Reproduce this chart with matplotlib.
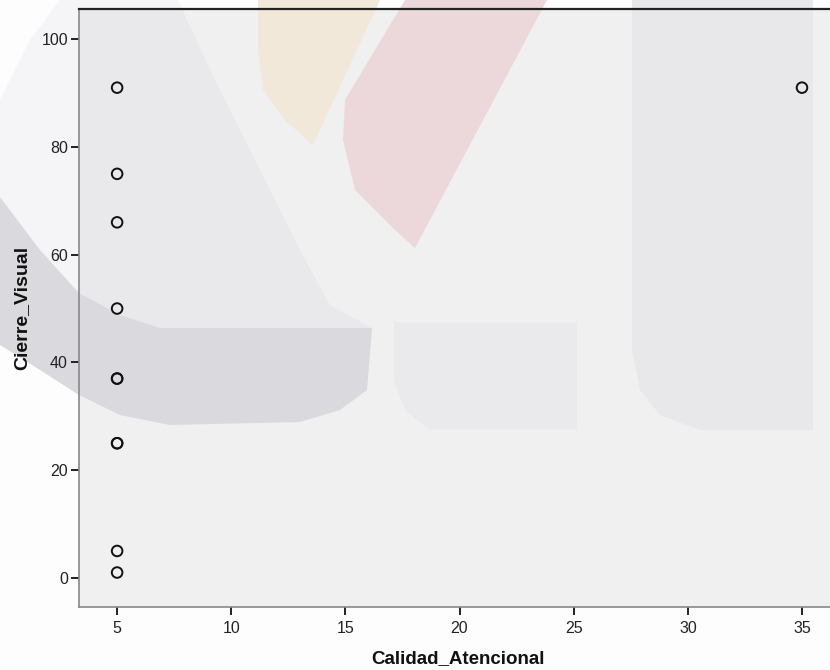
import matplotlib
matplotlib.use("Agg")
import matplotlib.pyplot as plt
from matplotlib.patches import Polygon, Rectangle

# Scatter data: Calidad_Atencional vs Cierre_Visual
calidad_atencional = [5, 5, 5, 5, 5, 5, 5, 5, 5, 5, 35]
cierre_visual = [91, 75, 66, 50, 37, 37, 25, 25, 5, 1, 91]

x_ticks = [5, 10, 15, 20, 25, 30, 35]
y_ticks = [0, 20, 40, 60, 80, 100]
x_label = "Calidad_Atencional"
y_label = "Cierre_Visual"

W, H = 830, 670
fig = plt.figure(figsize=(W / 100, H / 100), dpi=100, facecolor="#fdfdfd")


def px(points):
    """Convert pixel coordinates (origin top-left) to figure fractions."""
    return [(x / W, 1 - y / H) for x, y in points]


plot_rect = Rectangle((79 / W, 1 - 607 / H), (W - 79) / W, (607 - 9) / H,
                      facecolor="#f0f0f0", edgecolor="none",
                      transform=fig.transFigure, zorder=0)
fig.add_artist(plot_rect)


def add_shape(points, color, z, clip=False):
    poly = Polygon(px(points), closed=True, facecolor=color,
                   edgecolor="none", transform=fig.transFigure, zorder=z)
    fig.add_artist(poly)
    if clip:
        poly.set_clip_path(plot_rect)


# Faded background emblem
ring = [(60, 0), (178, 0), (215, 80), (260, 170), (300, 250), (330, 305),
        (372, 328), (160, 328), (120, 315), (79, 293), (40, 250), (0, 197),
        (0, 100), (30, 40)]
add_shape(ring, "#f5f5f7", 0.4)
add_shape(ring, "#e9e9ec", 0.5, clip=True)
add_shape([(0, 197), (40, 250), (79, 293), (120, 315), (160, 328), (372, 328),
           (367, 390), (340, 410), (300, 422), (170, 425), (120, 415),
           (79, 395), (40, 370), (0, 345)], "#dadade", 0.6)
add_shape([(258, 0), (380, 0), (313, 145), (285, 120), (263, 90), (258, 50)],
          "#f2e8d9", 0.6)
add_shape([(405, 0), (547, 0), (415, 248), (395, 230), (355, 190), (343, 140),
           (345, 100)], "#ecd8da", 0.6)
add_shape([(394, 322), (577, 322), (577, 430), (430, 430), (405, 410),
           (394, 380)], "#eaeaec", 0.6)
add_shape([(632, 0), (813, 0), (813, 430), (700, 430), (660, 415), (640, 390),
           (632, 350)], "#e8e8ea", 0.6)

ax = fig.add_axes([79 / W, 1 - 607 / H, (836 - 79) / W, (607 - 9) / H])
ax.set_facecolor("none")
ax.set_zorder(2)

ax.scatter(calidad_atencional, cierre_visual, s=58, facecolors="none",
           edgecolors="#111111", linewidths=1.4, zorder=3)

ax.set_xlim(3.33, 36.49)
ax.set_ylim(-5.4, 105.6)
ax.set_xticks(x_ticks)
ax.set_yticks(y_ticks)

tick_font = ["Liberation Sans", "DejaVu Sans"]
for lab in ax.get_xticklabels() + ax.get_yticklabels():
    lab.set_family(tick_font)
    lab.set_fontsize(11.5)
    lab.set_color("#222222")

ax.tick_params(axis="both", direction="out", length=6, width=1.4,
               color="#222222", pad=2)
ax.tick_params(axis="x", pad=4)

ax.spines["right"].set_visible(False)
ax.spines["top"].set_color("#222222")
ax.spines["top"].set_linewidth(1.6)
for side in ("left", "bottom"):
    ax.spines[side].set_color("#888888")
    ax.spines[side].set_linewidth(1.2)

label_font = ["Liberation Sans", "DejaVu Sans"]
ax.set_xlabel(x_label, family=label_font, fontsize=13.5, fontweight="bold",
              labelpad=10, color="#111111")
ax.set_ylabel(y_label, family=label_font, fontsize=14, fontweight="bold",
              labelpad=8, color="#111111")

fig.savefig("out.png", dpi=100, facecolor=fig.get_facecolor())
